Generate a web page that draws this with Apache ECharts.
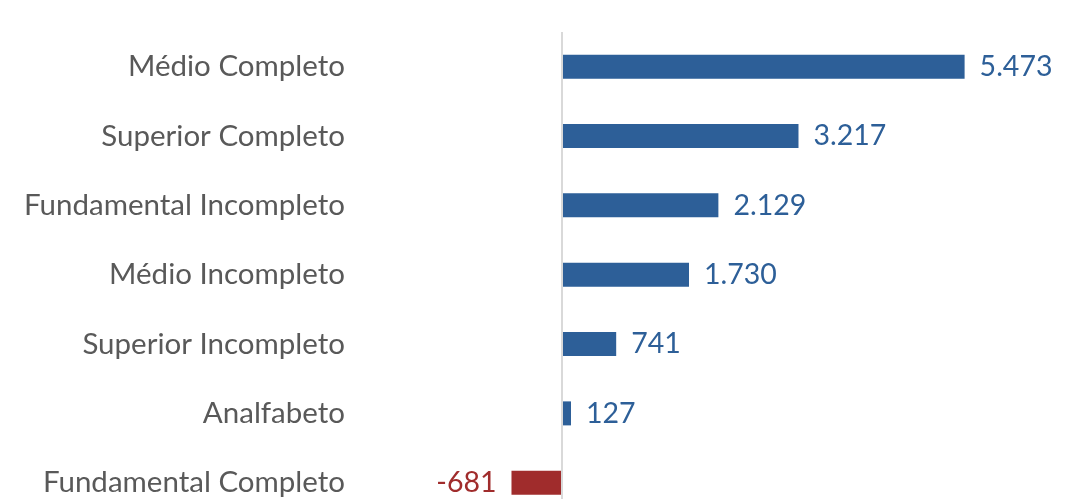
<!DOCTYPE html>
<html><head><meta charset="utf-8">
<script src="https://cdn.jsdelivr.net/npm/echarts@6/dist/echarts.min.js"></script>
<style>html,body{margin:0;padding:0;background:#fff;overflow:hidden}#c{width:1084px;height:518px}</style>
</head><body><div id="c"></div>
<script>
const categories = ["Médio Completo","Superior Completo","Fundamental Incompleto","Médio Incompleto","Superior Incompleto","Analfabeto","Fundamental Completo"];
const values = [5473, 3217, 2129, 1730, 741, 127, -681];
const BLUE = '#2d5f98', RED = '#a02c2c';
const fmt = v => v.toLocaleString('pt-BR');
const chart = echarts.init(document.getElementById('c'));
chart.setOption({
  animation:false,
  grid:{left:488, top:32, right:80.6, bottom:0.6, containLabel:false},
  xAxis:{type:'value', min:-1000, max:6000, show:false, splitLine:{show:false}},
  yAxis:{type:'category', data:categories, inverse:true,
    axisLine:{show:false, onZero:false}, axisTick:{show:false},
    axisLabel:{margin:143, fontFamily:'Lato', fontSize:29.5, color:'#595959'}},
  series:[{type:'bar', barWidth:24,
    data: values.map(v=>({value:v, itemStyle:{color: v<0?RED:BLUE},
      label:{position: v<0?'left':'right', color: v<0?RED:BLUE}})),
    label:{show:true, distance:15, fontFamily:'Lato', fontSize:28.5, formatter:p=>fmt(p.value)},
    markLine:{silent:true, symbol:'none', label:{show:false},
      lineStyle:{color:'#d9d9d9', width:2, type:'solid'}, data:[{xAxis:0}]}
  }]
});
</script></body></html>
